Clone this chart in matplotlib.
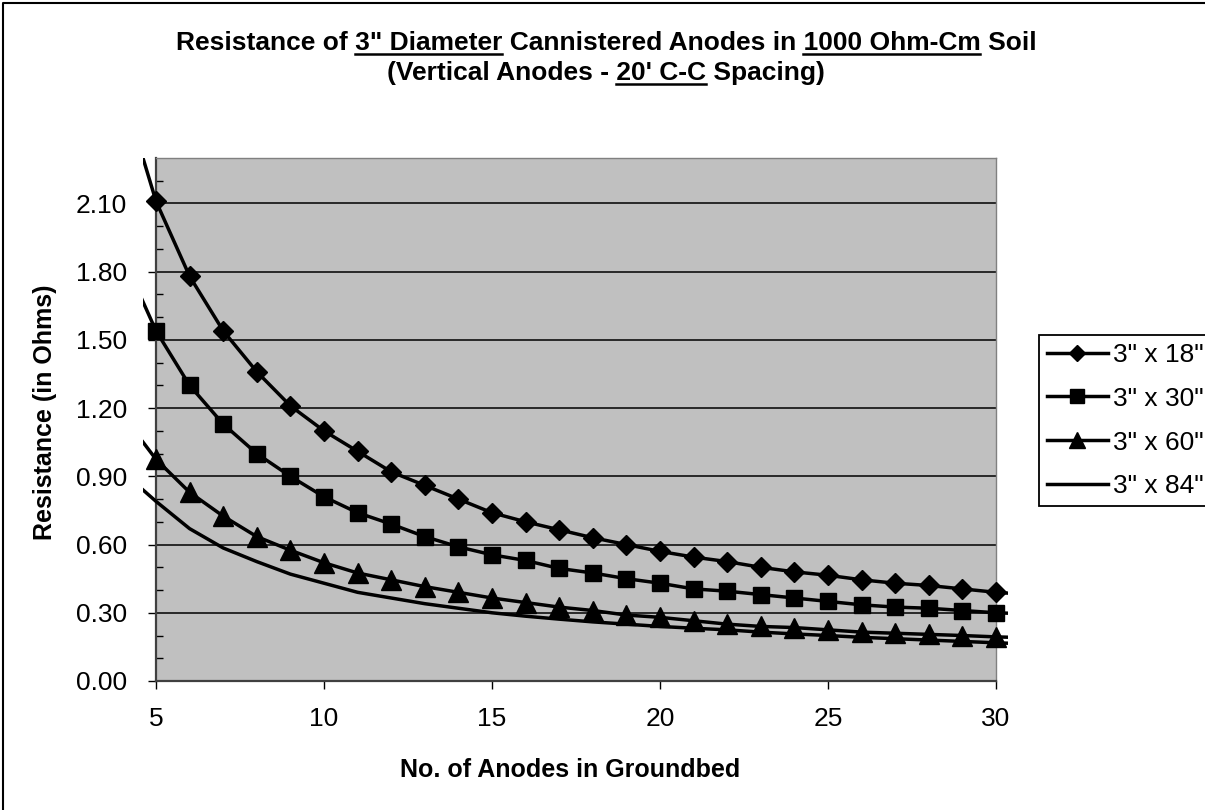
import matplotlib
matplotlib.use('Agg')
import matplotlib.pyplot as plt
from matplotlib.lines import Line2D
from matplotlib.patches import Rectangle
from matplotlib.transforms import blended_transform_factory
from matplotlib.font_manager import FontProperties

plt.rcParams['font.family'] = ['Liberation Sans', 'DejaVu Sans']

# number of anodes (4 and 31 only show as the short stubs past the axis ends)
anodes = [4, 5, 6, 7, 8, 9, 10, 11, 12, 13, 14, 15, 16, 17,
          18, 19, 20, 21, 22, 23, 24, 25, 26, 27, 28, 29, 30, 31]

r_18 = [2.60, 2.11, 1.78, 1.54, 1.36, 1.21, 1.10, 1.01, 0.92, 0.86, 0.80, 0.74, 0.70, 0.665,
        0.63, 0.60, 0.57, 0.545, 0.525, 0.50, 0.48, 0.465, 0.445, 0.43, 0.42, 0.405, 0.39, 0.38]
r_30 = [1.87, 1.54, 1.30, 1.13, 1.00, 0.90, 0.81, 0.74, 0.69, 0.635, 0.59, 0.555, 0.53, 0.495,
        0.475, 0.45, 0.43, 0.405, 0.395, 0.38, 0.365, 0.35, 0.335, 0.325, 0.32, 0.31, 0.30, 0.295]
r_60 = [1.17, 0.975, 0.83, 0.725, 0.635, 0.575, 0.52, 0.475, 0.445, 0.415, 0.39, 0.365, 0.345, 0.325,
        0.31, 0.29, 0.28, 0.265, 0.25, 0.24, 0.235, 0.225, 0.215, 0.21, 0.205, 0.20, 0.194, 0.19]
r_84 = [0.92, 0.79, 0.67, 0.585, 0.525, 0.47, 0.43, 0.39, 0.365, 0.34, 0.32, 0.30, 0.285, 0.272,
        0.26, 0.25, 0.24, 0.232, 0.225, 0.215, 0.207, 0.20, 0.192, 0.186, 0.18, 0.174, 0.168, 0.163]

series_labels = ['3" x 18"', '3" x 30"', '3" x 60"', '3" x 84"']
x_ticks = [5, 10, 15, 20, 25, 30]
y_ticks = [0.0, 0.3, 0.6, 0.9, 1.2, 1.5, 1.8, 2.1]
y_minor = [0.1, 0.2, 0.4, 0.5, 0.7, 0.8, 1.0, 1.1, 1.3, 1.4, 1.6, 1.7, 1.9, 2.0, 2.2]

title_lines = [
    [('Resistance of ', False), ('3" Diameter', True), (' Cannistered Anodes in ', False),
     ('1000 Ohm-Cm', True), (' Soil', False)],
    [('(Vertical Anodes - ', False), ("20' C-C", True), (' Spacing)', False)],
]

W, H = 1205, 810
fig = plt.figure(figsize=(W / 100, H / 100), dpi=100)
ax = fig.add_axes([156 / W, 1 - 681 / H, 840 / W, 523 / H])
ax.set_facecolor('#C0C0C0')
ax.set_xlim(5, 30)
ax.set_ylim(0, 2.3)

for y in y_ticks[1:]:
    ax.axhline(y, color='black', lw=1.1, zorder=1)

# excel lets the lines run a little past the plot area on left/right
clip_tr = blended_transform_factory(ax.transData, ax.transAxes)
clip_rect = Rectangle((4.62, 0), 25.74, 1, transform=clip_tr, fill=False, visible=False)
ax.add_patch(clip_rect)

styles = [('D', 10), ('s', 12), ('^', 14), ('', 0)]
for vals, lab, (mk, ms) in zip([r_18, r_30, r_60, r_84], series_labels, styles):
    line, = ax.plot(anodes, vals, color='black', lw=2.5, marker=mk, ms=ms,
                    label=lab, zorder=3, clip_on=True)
    line.set_clip_path(clip_rect)

ax.set_xticks(x_ticks)
ax.set_xticklabels([str(v) for v in x_ticks])
ax.set_yticks(y_ticks)
ax.set_yticklabels(['%.2f' % v for v in y_ticks])
ax.set_yticks(y_minor, minor=True)
ax.tick_params(axis='both', which='major', direction='out', length=6, width=1,
               labelsize=19, color='black')
ax.tick_params(axis='y', which='major', pad=15)
ax.tick_params(axis='x', which='major', pad=13)
ax.tick_params(axis='y', which='minor', direction='in', length=5, width=1, color='black')

for side in ['left', 'bottom']:
    ax.spines[side].set_color('#404040')
    ax.spines[side].set_linewidth(1.6)
for side in ['top', 'right']:
    ax.spines[side].set_color('#808080')
    ax.spines[side].set_linewidth(1.0)

fig.text(45 / W, 1 - 412 / H, 'Resistance (in Ohms)', rotation=90, ha='center', va='center',
         fontsize=18, fontweight='bold')
fig.text(570 / W, 1 - 770 / H, 'No. of Anodes in Groundbed', ha='center', va='center',
         fontsize=18, fontweight='bold')

leg = ax.legend(loc='upper left', bbox_to_anchor=(1039 / W, 1 - 335 / H),
                bbox_transform=fig.transFigure, fontsize=19, frameon=True, fancybox=False,
                framealpha=1, edgecolor='black', borderaxespad=0, borderpad=0.3,
                handlelength=2.3, handletextpad=0.2, labelspacing=0.75, markerscale=0.8)
leg.get_frame().set_linewidth(1.3)

# title with underlined parts
fig.canvas.draw()
renderer = fig.canvas.get_renderer()
fp = FontProperties(family=['Liberation Sans', 'DejaVu Sans'], weight='bold', size=19)


def adv_width(s):
    t = fig.text(0, 0, s + 'I', fontproperties=fp)
    w1 = t.get_window_extent(renderer).width
    t.set_text('I')
    w0 = t.get_window_extent(renderer).width
    t.remove()
    return w1 - w0


title_base = [50, 80]
for pieces, yb in zip(title_lines, title_base):
    full = ''.join(p for p, _ in pieces)
    fig.text(606 / W, 1 - yb / H, full, ha='center', va='baseline', fontproperties=fp)
    total = adv_width(full)
    left = 606 - total / 2
    prefix = ''
    for p, under in pieces:
        if under:
            x0 = left + adv_width(prefix)
            x1 = x0 + adv_width(p)
            fig.add_artist(Line2D([x0 / W, x1 / W], [1 - (yb + 4) / H] * 2,
                                  transform=fig.transFigure, color='black', lw=1.8))
        prefix += p

# outer chart border (left and top edges visible)
fig.add_artist(Line2D([3 / W, 3 / W, 1], [0, 1 - 3 / H, 1 - 3 / H],
                      transform=fig.transFigure, color='black', lw=1.5))

fig.savefig('out.png', dpi=100)
